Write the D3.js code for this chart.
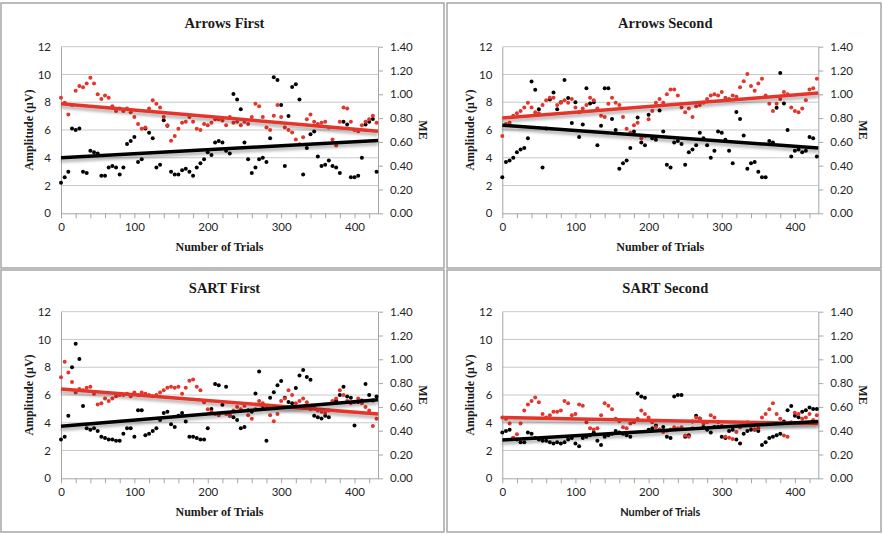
<!DOCTYPE html>
<html>
  <head>
    <meta charset="utf-8">
    <title>Amplitude and ME across trials</title>
    <script src="https://d3js.org/d3.v7.min.js"></script>
    <style>
      body { margin: 0; background: #fff; }
      .tick text { font-family: Lato, "Liberation Sans", sans-serif; font-size: 11.5px; fill: #1f1f1f; }
      .panelTitle { font-family: "Liberation Serif", serif; font-weight: bold; font-size: 14.5px; fill: #1a1a1a; }
      .axisTitle { font-family: "Liberation Serif", serif; font-weight: bold; font-size: 12px; fill: #1a1a1a; }
    </style>
  </head>
  <body>
    <script>
      var width = 883;
      var height = 534;

      var titles = ["Arrows First", "Arrows Second", "SART First", "SART Second"];
      var trialStep = 5;      // one reading every 5 trials
      var trialMax = 432;
      var ampTicks = [0, 2, 4, 6, 8, 10, 12];
      var meTicks = [0, 0.2, 0.4, 0.6, 0.8, 1.0, 1.2, 1.4];
      var trialTicks = [0, 20, 40, 60, 80, 100, 120, 140, 160, 180, 200, 220, 240, 260, 280, 300, 320, 340, 360, 380, 400, 420];

      // amplitude (uV, left axis) and ME (right axis), trials 0..430
      var ampArrowsFirst = [
        2.2, 2.6, 3.0, 6.1, 6.0, 6.1, 3.0, 2.9, 4.5, 4.4,
        4.3, 2.7, 2.7, 3.3, 3.4, 3.3, 2.8, 3.3, 5.0, 5.2,
        5.5, 3.7, 3.9, 6.1, 5.8, 5.4, 3.3, 3.5, 6.7, 6.3,
        3.0, 2.8, 2.8, 3.1, 3.2, 3.0, 2.7, 3.3, 3.6, 3.9,
        4.4, 4.2, 5.1, 5.2, 5.1, 4.5, 4.3, 8.6, 8.2, 7.5,
        5.1, 3.9, 2.9, 3.3, 3.9, 4.0, 3.7, 5.4, 9.8, 9.6,
        7.8, 3.4, 7.0, 9.1, 9.3, 8.2, 2.8, 4.7, 5.7, 5.9,
        4.1, 3.4, 3.5, 3.8, 3.4, 3.3, 2.9, 6.6, 6.4, 2.6,
        2.6, 2.7, 4.0, 6.4, 6.6, 6.8, 3.0
      ];
      var meArrowsFirst = [
        0.97, 0.93, 0.83, 0.91, 1.03, 1.07, 1.06, 1.09, 1.14, 1.09,
        1.00, 0.96, 0.99, 0.97, 0.90, 0.86, 0.88, 0.86, 0.88, 0.85,
        0.81, 0.75, 0.71, 0.72, 0.88, 0.95, 0.92, 0.89, 0.81, 0.74,
        0.61, 0.65, 0.71, 0.76, 0.77, 0.81, 0.77, 0.71, 0.70, 0.75,
        0.74, 0.76, 0.79, 0.79, 0.78, 0.74, 0.81, 0.76, 0.77, 0.74,
        0.77, 0.75, 0.81, 0.92, 0.90, 0.81, 0.72, 0.70, 0.82, 0.91,
        0.81, 0.72, 0.70, 0.68, 0.62, 0.58, 0.64, 0.79, 0.83, 0.77,
        0.75, 0.76, 0.77, 0.72, 0.62, 0.57, 0.77, 0.89, 0.88, 0.77,
        0.70, 0.69, 0.74, 0.77, 0.79, 0.82, 0.76
      ];
      var ampArrowsSecond = [
        2.6, 3.7, 3.8, 4.0, 4.4, 4.6, 4.7, 5.4, 9.5, 8.9,
        7.5, 3.3, 6.1, 8.2, 8.7, 7.5, 8.0, 9.6, 8.3, 6.5,
        8.0, 5.5, 6.4, 9.0, 7.9, 8.0, 4.9, 6.3, 9.0, 9.0,
        6.8, 6.0, 3.2, 3.6, 3.8, 4.7, 5.9, 6.9, 5.1, 4.9,
        7.1, 5.4, 5.3, 7.4, 5.9, 3.5, 3.3, 5.1, 5.2, 5.0,
        3.5, 4.4, 4.6, 4.9, 5.8, 5.4, 4.9, 4.0, 4.5, 5.9,
        5.8, 5.3, 4.5, 3.6, 7.3, 6.8, 5.6, 3.2, 3.6, 3.7,
        3.0, 2.6, 2.6, 5.2, 5.1, 7.6, 10.1, 7.9, 6.0, 4.1,
        4.5, 4.6, 4.4, 4.5, 5.5, 5.4, 4.1
      ];
      var meArrowsSecond = [
        0.65, 0.75, 0.76, 0.82, 0.84, 0.86, 0.89, 0.93, 0.89, 0.85,
        0.84, 0.91, 0.95, 0.97, 0.97, 0.91, 0.93, 0.95, 0.93, 0.96,
        0.89, 0.85, 0.88, 0.91, 0.97, 0.95, 0.88, 0.82, 0.81, 0.92,
        0.97, 0.93, 0.91, 0.81, 0.71, 0.68, 0.74, 0.76, 0.63, 0.65,
        0.79, 0.86, 0.93, 0.96, 0.93, 1.00, 1.04, 1.04, 0.99, 0.89,
        0.85, 0.88, 0.81, 0.90, 0.91, 0.93, 0.96, 0.99, 1.00, 0.99,
        1.02, 0.97, 0.96, 0.99, 0.98, 1.06, 1.11, 1.17, 1.07, 1.03,
        1.09, 1.13, 0.99, 0.92, 0.86, 0.92, 0.96, 1.02, 1.00, 0.89,
        0.86, 0.85, 0.88, 0.95, 1.04, 1.05, 1.13
      ];
      var ampSartFirst = [
        2.8, 3.0, 4.5, 8.0, 9.7, 8.6, 5.2, 3.6, 3.5, 3.6,
        3.4, 3.0, 2.9, 2.8, 2.8, 2.7, 2.7, 3.2, 3.6, 3.6,
        3.0, 4.9, 4.9, 3.1, 3.2, 3.4, 3.6, 4.2, 4.7, 4.8,
        3.9, 3.7, 4.5, 4.7, 4.1, 3.0, 3.0, 2.9, 2.8, 2.8,
        3.6, 5.0, 6.8, 6.7, 5.3, 6.6, 4.5, 4.4, 4.2, 3.6,
        3.7, 4.9, 4.8, 6.1, 7.7, 5.2, 2.7, 5.8, 6.2, 6.7,
        7.0, 5.8, 5.5, 5.4, 6.5, 7.4, 7.8, 7.3, 7.1, 4.5,
        4.4, 4.3, 4.5, 4.4, 5.5, 5.6, 6.0, 6.6, 5.9, 5.8,
        3.8, 5.5, 5.6, 6.8, 6.0, 5.6, 5.9
      ];
      var meSartFirst = [
        0.85, 0.98, 0.89, 0.81, 0.72, 0.75, 0.74, 0.76, 0.77, 0.71,
        0.62, 0.63, 0.67, 0.65, 0.67, 0.69, 0.70, 0.70, 0.71, 0.69,
        0.72, 0.70, 0.72, 0.71, 0.70, 0.69, 0.70, 0.72, 0.74, 0.76,
        0.77, 0.76, 0.77, 0.71, 0.76, 0.82, 0.83, 0.77, 0.74, 0.64,
        0.58, 0.56, 0.54, 0.53, 0.55, 0.54, 0.53, 0.57, 0.60, 0.58,
        0.61, 0.53, 0.50, 0.58, 0.65, 0.63, 0.60, 0.53, 0.48, 0.54,
        0.65, 0.67, 0.74, 0.70, 0.63, 0.65, 0.67, 0.64, 0.58, 0.60,
        0.57, 0.56, 0.55, 0.57, 0.65, 0.67, 0.74, 0.70, 0.65, 0.63,
        0.64, 0.67, 0.63, 0.60, 0.57, 0.44, 0.50
      ];
      var ampSartSecond = [
        3.3, 3.4, 3.5, 2.9, 2.8, 2.6, 2.6, 3.3, 3.2, 2.9,
        2.8, 2.7, 2.7, 2.6, 2.5, 2.6, 2.5, 2.6, 2.8, 2.9,
        2.5, 2.3, 2.9, 3.0, 3.1, 3.3, 2.7, 2.4, 3.0, 3.1,
        3.2, 3.4, 3.3, 3.2, 3.1, 3.0, 4.1, 6.1, 5.9, 5.8,
        3.5, 3.6, 3.8, 3.5, 3.7, 3.0, 2.9, 5.9, 6.0, 6.0,
        3.0, 3.1, 4.1, 4.5, 4.3, 3.7, 3.5, 3.3, 3.7, 3.7,
        3.0, 2.9, 3.4, 3.5, 2.8, 2.5, 3.2, 3.4, 3.5, 3.5,
        3.4, 2.4, 2.6, 2.9, 3.0, 3.1, 3.2, 4.1, 4.9, 5.2,
        4.5, 4.4, 4.8, 4.9, 5.1, 5.0, 5.0
      ];
      var meSartSecond = [
        0.51, 0.50, 0.46, 0.34, 0.37, 0.46, 0.57, 0.62, 0.65, 0.68,
        0.64, 0.54, 0.51, 0.53, 0.56, 0.56, 0.57, 0.65, 0.63, 0.53,
        0.54, 0.62, 0.61, 0.47, 0.42, 0.41, 0.42, 0.53, 0.63, 0.61,
        0.58, 0.50, 0.48, 0.43, 0.42, 0.46, 0.47, 0.50, 0.57, 0.54,
        0.51, 0.47, 0.43, 0.41, 0.39, 0.40, 0.41, 0.43, 0.42, 0.43,
        0.36, 0.35, 0.42, 0.51, 0.50, 0.46, 0.47, 0.53, 0.51, 0.47,
        0.44, 0.35, 0.34, 0.33, 0.39, 0.43, 0.46, 0.47, 0.44, 0.41,
        0.42, 0.51, 0.54, 0.58, 0.63, 0.54, 0.50, 0.36, 0.35, 0.47,
        0.55, 0.54, 0.50, 0.51, 0.54, 0.49, 0.53
      ];

      // linear trend lines, value at trial 0 and at the last trial
      var ampTrendStart = [4.0, 6.35, 3.75, 2.75];
      var ampTrendEnd = [5.25, 4.7, 5.65, 4.1];
      var meTrendStart = [0.92, 0.80, 0.75, 0.51];
      var meTrendEnd = [0.69, 1.01, 0.54, 0.46];

      var ampSeries = [ampArrowsFirst, ampArrowsSecond, ampSartFirst, ampSartSecond];
      var meSeries = [meArrowsFirst, meArrowsSecond, meSartFirst, meSartSecond];

      // frame box and plot area of each panel
      var boxes = [[1, 3, 444, 268], [447, 3, 881, 268], [1, 270, 444, 532], [447, 270, 881, 532]];
      var plots = [[61, 46.7, 378, 213.3], [502.3, 46.7, 818.3, 213.3], [61, 311.7, 378, 478.3], [502.3, 311.7, 818.3, 478.3]];

      var red = "#e3352b";
      var gridColor = "#c9c9c9";
      var axisColor = "#a6a6a6";

      var svg = d3.select("body")
        .append("svg")
        .attr("width", width)
        .attr("height", height);

      var defs = svg.append("defs");
      var shadow = defs.append("filter")
        .attr("id", "shadow")
        .attr("filterUnits", "userSpaceOnUse")
        .attr("x", 0).attr("y", 0).attr("width", width).attr("height", height);
      shadow.append("feGaussianBlur").attr("in", "SourceAlpha").attr("stdDeviation", 1.6);
      shadow.append("feOffset").attr("dy", 3).attr("result", "blur");
      shadow.append("feFlood").attr("flood-color", "#000").attr("flood-opacity", 0.3);
      shadow.append("feComposite").attr("in2", "blur").attr("operator", "in");
      var merge = shadow.append("feMerge");
      merge.append("feMergeNode");
      merge.append("feMergeNode").attr("in", "SourceGraphic");

      titles.forEach(function(title, k) {
        var b = boxes[k], p = plots[k];
        var g = svg.append("g");

        g.append("rect")
          .attr("x", b[0]).attr("y", b[1])
          .attr("width", b[2] - b[0]).attr("height", b[3] - b[1])
          .attr("fill", "none")
          .attr("stroke", axisColor)
          .attr("stroke-width", 1.5);

        var x = d3.scaleLinear().domain([0, trialMax]).range([p[0], p[2]]);
        var yAmp = d3.scaleLinear().domain([0, 12]).range([p[3], p[1]]);
        var yMe = d3.scaleLinear().domain([0, 1.4]).range([p[3], p[1]]);

        g.selectAll(".grid")
          .data(ampTicks.slice(1))
          .enter()
          .append("line")
            .attr("x1", p[0]).attr("x2", p[2])
            .attr("y1", function(d) { return yAmp(d); })
            .attr("y2", function(d) { return yAmp(d); })
            .attr("stroke", gridColor)
            .attr("stroke-width", 1);

        var leftAxis = g.append("g")
          .attr("transform", `translate(${p[0]},0)`)
          .call(d3.axisLeft(yAmp).tickValues(ampTicks).tickSize(0).tickSizeOuter(0).tickPadding(10));

        var rightAxis = g.append("g")
          .attr("transform", `translate(${p[2]},0)`)
          .call(d3.axisRight(yMe).tickValues(meTicks).tickFormat(d3.format(".2f")).tickSize(5).tickSizeOuter(0).tickPadding(7));

        var bottomAxis = g.append("g")
          .attr("transform", `translate(0,${p[3]})`)
          .call(d3.axisBottom(x).tickValues(trialTicks)
            .tickFormat(function(d) { return d % 100 === 0 ? d : ""; })
            .tickSize(5).tickSizeOuter(0).tickPadding(5));

        [leftAxis, rightAxis, bottomAxis].forEach(function(a) {
          a.select(".domain").attr("stroke", axisColor);
          a.selectAll(".tick line").attr("stroke", axisColor);
        });

        g.selectAll(".ampDot")
          .data(ampSeries[k])
          .enter()
          .append("circle")
            .attr("cx", function(d, i) { return x(i * trialStep); })
            .attr("cy", function(d) { return yAmp(d); })
            .attr("r", 2)
            .attr("fill", "#000");

        g.selectAll(".meDot")
          .data(meSeries[k])
          .enter()
          .append("circle")
            .attr("cx", function(d, i) { return x(i * trialStep); })
            .attr("cy", function(d) { return yMe(d); })
            .attr("r", 2)
            .attr("fill", red);

        g.append("line")
          .attr("x1", x(0)).attr("x2", x(trialMax))
          .attr("y1", yMe(meTrendStart[k])).attr("y2", yMe(meTrendEnd[k]))
          .attr("stroke", red)
          .attr("stroke-width", 3.5)
          .attr("filter", "url(#shadow)");

        g.append("line")
          .attr("x1", x(0)).attr("x2", x(trialMax))
          .attr("y1", yAmp(ampTrendStart[k])).attr("y2", yAmp(ampTrendEnd[k]))
          .attr("stroke", "#000")
          .attr("stroke-width", 3.5)
          .attr("filter", "url(#shadow)");

        var midY = (p[1] + p[3]) / 2;

        g.append("text")
          .attr("class", "panelTitle")
          .attr("x", (p[0] + p[2]) / 2 + 5)
          .attr("y", p[1] - 18.5)
          .attr("text-anchor", "middle")
          .text(title);

        var xTitle = g.append("text")
          .attr("class", "axisTitle")
          .attr("x", (p[0] + p[2]) / 2)
          .attr("y", p[3] + 38)
          .attr("text-anchor", "middle")
          .text("Number of Trials");
        if (k === 3) {
          xTitle.style("font-family", "Lato, 'Liberation Sans', sans-serif").style("font-size", "11px");
        }

        g.append("text")
          .attr("class", "axisTitle")
          .attr("transform", `translate(${p[0] - 32},${midY}) rotate(-90)`)
          .attr("text-anchor", "middle")
          .attr("dominant-baseline", "central")
          .text("Amplitude (\u03bcV)");

        g.append("text")
          .attr("class", "axisTitle")
          .attr("transform", `translate(${p[2] + 45},${midY}) rotate(90)`)
          .attr("text-anchor", "middle")
          .attr("dominant-baseline", "central")
          .text("ME");
      });
    </script>
  </body>
</html>
